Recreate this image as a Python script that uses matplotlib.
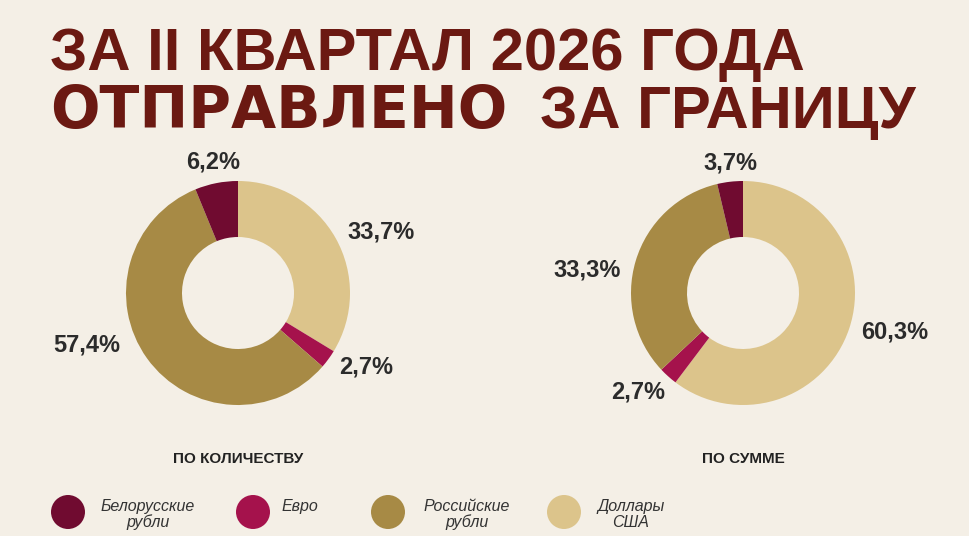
import matplotlib.pyplot as plt
from matplotlib.patches import Circle

# данные
valuty = ['Белорусские\nрубли', 'Евро', 'Российские\nрубли', 'Доллары\nСША']
cveta = ['#700b30', '#a5124c', '#a78a45', '#dcc48b']

# порядок секторов по часовой стрелке от 12 часов: доллары, евро, рос. рубли, бел. рубли
poryadok = [3, 1, 2, 0]
po_kolichestvu = [33.7, 2.7, 57.4, 6.2]
po_summe = [60.3, 2.7, 33.3, 3.7]
podpisi_1 = ['33,7%', '2,7%', '57,4%', '6,2%']
podpisi_2 = ['60,3%', '2,7%', '33,3%', '3,7%']

W, H = 969, 536
fon = '#f4efe6'
tsvet_zag = '#6b1912'
tsvet_teksta = '#2b2b2b'

fig = plt.figure(figsize=(W / 100, H / 100), dpi=100, facecolor=fon)
ax = fig.add_axes([0, 0, 1, 1])
ax.set_facecolor(fon)


def Y(y):
    # пиксели сверху вниз -> координаты оси
    return H - y


def ring(vals, labels, cx, cy, offs, title):
    ax.pie(vals, colors=[cveta[i] for i in poryadok], startangle=90, counterclock=False,
           center=(cx, Y(cy)), radius=112, wedgeprops=dict(width=56, linewidth=0))
    for lab, (dx, dy) in zip(labels, offs):
        ax.text(cx + dx, Y(cy) + dy, lab, ha='center', va='center', fontsize=17,
                fontweight='bold', color=tsvet_teksta, family='Liberation Sans')
    ax.text(cx, Y(459), title, ha='center', va='center', fontsize=11,
            fontweight='bold', color='#222222', family='Liberation Sans')


ring(po_kolichestvu, podpisi_1, 238, 293,
     [(143, 61), (128, -74), (-151, -52), (-25, 131)], 'ПО КОЛИЧЕСТВУ')
ring(po_summe, podpisi_2, 743, 293,
     [(152, -39), (-105, -99), (-156, 23), (-13, 130)], 'ПО СУММЕ')

# заголовок
ax.text(50, Y(70), 'ЗА II КВАРТАЛ 2026 ГОДА', fontsize=43, fontweight='bold',
        color=tsvet_zag, family='Liberation Sans', ha='left', va='baseline')
ax.text(50, Y(128), 'ОТПРАВЛЕНО', fontsize=42, fontweight='bold',
        color=tsvet_zag, family='DejaVu Sans', ha='left', va='baseline')
ax.text(540, Y(128), 'ЗА ГРАНИЦУ', fontsize=43, fontweight='bold',
        color=tsvet_zag, family='Liberation Sans', ha='left', va='baseline')

# легенда
krug_x = [68, 253, 388, 564]
tekst_x = [148, 300, 467, 631]
for i in range(len(valuty)):
    ax.add_patch(Circle((krug_x[i], Y(512)), 17, color=cveta[i], lw=0))
    ax.text(tekst_x[i], Y(499), valuty[i], ha='center', va='top', fontsize=11.5,
            style='italic', color='#333333', family='Liberation Sans', linespacing=1.05)

ax.set_xlim(0, W)
ax.set_ylim(0, H)
ax.set_aspect('equal')
ax.axis('off')

fig.savefig('out.png', dpi=100, facecolor=fon)
